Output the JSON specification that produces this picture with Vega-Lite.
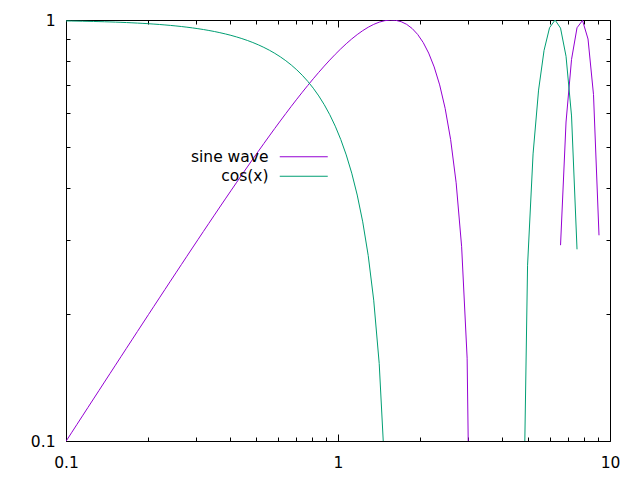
{
"$schema": "https://vega.github.io/schema/vega-lite/v6.json",
"width": 544, "height": 421,
"autosize": "none",
"padding": {"left": 66, "top": 20, "right": 30, "bottom": 39},
"background": "white",
"config": {
 "view": {"stroke": "black", "strokeWidth": 1},
 "axis": {"grid": false, "domain": false, "labelFont": "DejaVu Sans", "labelFontSize": 15.5, "labelColor": "black", "tickColor": "black", "tickWidth": 1, "title": null, "labelFlush": false, "labelOverlap": false},
 "legend": {"orient": "none", "legendX": 230, "legendY": 129, "symbolType": "M-4,0H4", "symbolSize": 144, "symbolStrokeWidth": 1, "labelAlign": "right", "labelOffset": -43, "labelFont": "DejaVu Sans", "labelFontSize": 15.5, "labelColor": "black", "title": null, "rowPadding": 2.5, "padding": 0}
},
"data": {"values": [
{"series":"sine wave","seg":"s1","x":0.1,"y":0.099833},
{"series":"sine wave","seg":"s1","x":0.104762,"y":0.104570},
{"series":"sine wave","seg":"s1","x":0.109750,"y":0.109530},
{"series":"sine wave","seg":"s1","x":0.114976,"y":0.114723},
{"series":"sine wave","seg":"s1","x":0.120450,"y":0.120159},
{"series":"sine wave","seg":"s1","x":0.126186,"y":0.125851},
{"series":"sine wave","seg":"s1","x":0.132194,"y":0.131809},
{"series":"sine wave","seg":"s1","x":0.138489,"y":0.138047},
{"series":"sine wave","seg":"s1","x":0.145083,"y":0.144575},
{"series":"sine wave","seg":"s1","x":0.151991,"y":0.151407},
{"series":"sine wave","seg":"s1","x":0.159228,"y":0.158556},
{"series":"sine wave","seg":"s1","x":0.166810,"y":0.166038},
{"series":"sine wave","seg":"s1","x":0.174753,"y":0.173864},
{"series":"sine wave","seg":"s1","x":0.183074,"y":0.182054},
{"series":"sine wave","seg":"s1","x":0.191791,"y":0.190617},
{"series":"sine wave","seg":"s1","x":0.200923,"y":0.199574},
{"series":"sine wave","seg":"s1","x":0.210490,"y":0.208939},
{"series":"sine wave","seg":"s1","x":0.220513,"y":0.218731},
{"series":"sine wave","seg":"s1","x":0.231013,"y":0.228963},
{"series":"sine wave","seg":"s1","x":0.242013,"y":0.239657},
{"series":"sine wave","seg":"s1","x":0.253536,"y":0.250828},
{"series":"sine wave","seg":"s1","x":0.265609,"y":0.262497},
{"series":"sine wave","seg":"s1","x":0.278256,"y":0.274680},
{"series":"sine wave","seg":"s1","x":0.291505,"y":0.287394},
{"series":"sine wave","seg":"s1","x":0.305386,"y":0.300661},
{"series":"sine wave","seg":"s1","x":0.319927,"y":0.314498},
{"series":"sine wave","seg":"s1","x":0.335160,"y":0.328920},
{"series":"sine wave","seg":"s1","x":0.351119,"y":0.343950},
{"series":"sine wave","seg":"s1","x":0.367838,"y":0.359600},
{"series":"sine wave","seg":"s1","x":0.385353,"y":0.375886},
{"series":"sine wave","seg":"s1","x":0.403702,"y":0.392826},
{"series":"sine wave","seg":"s1","x":0.422924,"y":0.410406},
{"series":"sine wave","seg":"s1","x":0.443062,"y":0.428750},
{"series":"sine wave","seg":"s1","x":0.464159,"y":0.447621},
{"series":"sine wave","seg":"s1","x":0.486260,"y":0.467323},
{"series":"sine wave","seg":"s1","x":0.509414,"y":0.487666},
{"series":"sine wave","seg":"s1","x":0.533670,"y":0.508697},
{"series":"sine wave","seg":"s1","x":0.559081,"y":0.530407},
{"series":"sine wave","seg":"s1","x":0.585702,"y":0.552785},
{"series":"sine wave","seg":"s1","x":0.613591,"y":0.575807},
{"series":"sine wave","seg":"s1","x":0.642807,"y":0.599444},
{"series":"sine wave","seg":"s1","x":0.673415,"y":0.623659},
{"series":"sine wave","seg":"s1","x":0.705480,"y":0.648399},
{"series":"sine wave","seg":"s1","x":0.739072,"y":0.673602},
{"series":"sine wave","seg":"s1","x":0.774264,"y":0.699190},
{"series":"sine wave","seg":"s1","x":0.811131,"y":0.725066},
{"series":"sine wave","seg":"s1","x":0.849753,"y":0.751117},
{"series":"sine wave","seg":"s1","x":0.890215,"y":0.777208},
{"series":"sine wave","seg":"s1","x":0.932603,"y":0.803173},
{"series":"sine wave","seg":"s1","x":0.977010,"y":0.828828},
{"series":"sine wave","seg":"s1","x":1.023531,"y":0.853951},
{"series":"sine wave","seg":"s1","x":1.072267,"y":0.878287},
{"series":"sine wave","seg":"s1","x":1.123324,"y":0.901544},
{"series":"sine wave","seg":"s1","x":1.176812,"y":0.923387},
{"series":"sine wave","seg":"s1","x":1.232847,"y":0.943436},
{"series":"sine wave","seg":"s1","x":1.291550,"y":0.961264},
{"series":"sine wave","seg":"s1","x":1.353048,"y":0.976387},
{"series":"sine wave","seg":"s1","x":1.417474,"y":0.988269},
{"series":"sine wave","seg":"s1","x":1.484968,"y":0.996319},
{"series":"sine wave","seg":"s1","x":1.555676,"y":0.999886},
{"series":"sine wave","seg":"s1","x":1.629751,"y":0.998263},
{"series":"sine wave","seg":"s1","x":1.707353,"y":0.990690},
{"series":"sine wave","seg":"s1","x":1.788650,"y":0.976364},
{"series":"sine wave","seg":"s1","x":1.873817,"y":0.954439},
{"series":"sine wave","seg":"s1","x":1.963041,"y":0.924053},
{"series":"sine wave","seg":"s1","x":2.056512,"y":0.884341},
{"series":"sine wave","seg":"s1","x":2.154435,"y":0.834463},
{"series":"sine wave","seg":"s1","x":2.257020,"y":0.773644},
{"series":"sine wave","seg":"s1","x":2.364489,"y":0.701217},
{"series":"sine wave","seg":"s1","x":2.477076,"y":0.616679},
{"series":"sine wave","seg":"s1","x":2.595024,"y":0.519759},
{"series":"sine wave","seg":"s1","x":2.718588,"y":0.410502},
{"series":"sine wave","seg":"s1","x":2.848036,"y":0.289359},
{"series":"sine wave","seg":"s1","x":2.983647,"y":0.157290},
{"series":"sine wave","seg":"s1","x":3.125716,"y":0.015876},
{"series":"sine wave","seg":"s2","x":6.579332,"y":0.291837},
{"series":"sine wave","seg":"s2","x":6.892612,"y":0.572399},
{"series":"sine wave","seg":"s2","x":7.220809,"y":0.806154},
{"series":"sine wave","seg":"s2","x":7.564633,"y":0.958430},
{"series":"sine wave","seg":"s2","x":7.924829,"y":0.997491},
{"series":"sine wave","seg":"s2","x":8.302176,"y":0.901231},
{"series":"sine wave","seg":"s2","x":8.697490,"y":0.664846},
{"series":"sine wave","seg":"s2","x":9.111628,"y":0.308057},
{"series":"cos(x)","seg":"c1","x":0.1,"y":0.995004},
{"series":"cos(x)","seg":"c1","x":0.104762,"y":0.994517},
{"series":"cos(x)","seg":"c1","x":0.109750,"y":0.993984},
{"series":"cos(x)","seg":"c1","x":0.114976,"y":0.993398},
{"series":"cos(x)","seg":"c1","x":0.120450,"y":0.992755},
{"series":"cos(x)","seg":"c1","x":0.126186,"y":0.992049},
{"series":"cos(x)","seg":"c1","x":0.132194,"y":0.991275},
{"series":"cos(x)","seg":"c1","x":0.138489,"y":0.990426},
{"series":"cos(x)","seg":"c1","x":0.145083,"y":0.989494},
{"series":"cos(x)","seg":"c1","x":0.151991,"y":0.988472},
{"series":"cos(x)","seg":"c1","x":0.159228,"y":0.987350},
{"series":"cos(x)","seg":"c1","x":0.166810,"y":0.986119},
{"series":"cos(x)","seg":"c1","x":0.174753,"y":0.984769},
{"series":"cos(x)","seg":"c1","x":0.183074,"y":0.983289},
{"series":"cos(x)","seg":"c1","x":0.191791,"y":0.981664},
{"series":"cos(x)","seg":"c1","x":0.200923,"y":0.979883},
{"series":"cos(x)","seg":"c1","x":0.210490,"y":0.977929},
{"series":"cos(x)","seg":"c1","x":0.220513,"y":0.975785},
{"series":"cos(x)","seg":"c1","x":0.231013,"y":0.973435},
{"series":"cos(x)","seg":"c1","x":0.242013,"y":0.970858},
{"series":"cos(x)","seg":"c1","x":0.253536,"y":0.968032},
{"series":"cos(x)","seg":"c1","x":0.265609,"y":0.964933},
{"series":"cos(x)","seg":"c1","x":0.278256,"y":0.961536},
{"series":"cos(x)","seg":"c1","x":0.291505,"y":0.957812},
{"series":"cos(x)","seg":"c1","x":0.305386,"y":0.953731},
{"series":"cos(x)","seg":"c1","x":0.319927,"y":0.949258},
{"series":"cos(x)","seg":"c1","x":0.335160,"y":0.944358},
{"series":"cos(x)","seg":"c1","x":0.351119,"y":0.938988},
{"series":"cos(x)","seg":"c1","x":0.367838,"y":0.933107},
{"series":"cos(x)","seg":"c1","x":0.385353,"y":0.926666},
{"series":"cos(x)","seg":"c1","x":0.403702,"y":0.919613},
{"series":"cos(x)","seg":"c1","x":0.422924,"y":0.911893},
{"series":"cos(x)","seg":"c1","x":0.443062,"y":0.903443},
{"series":"cos(x)","seg":"c1","x":0.464159,"y":0.894198},
{"series":"cos(x)","seg":"c1","x":0.486260,"y":0.884087},
{"series":"cos(x)","seg":"c1","x":0.509414,"y":0.873030},
{"series":"cos(x)","seg":"c1","x":0.533670,"y":0.860946},
{"series":"cos(x)","seg":"c1","x":0.559081,"y":0.847743},
{"series":"cos(x)","seg":"c1","x":0.585702,"y":0.833324},
{"series":"cos(x)","seg":"c1","x":0.613591,"y":0.817586},
{"series":"cos(x)","seg":"c1","x":0.642807,"y":0.800416},
{"series":"cos(x)","seg":"c1","x":0.673415,"y":0.781696},
{"series":"cos(x)","seg":"c1","x":0.705480,"y":0.761301},
{"series":"cos(x)","seg":"c1","x":0.739072,"y":0.739094},
{"series":"cos(x)","seg":"c1","x":0.774264,"y":0.714936},
{"series":"cos(x)","seg":"c1","x":0.811131,"y":0.688679},
{"series":"cos(x)","seg":"c1","x":0.849753,"y":0.660169},
{"series":"cos(x)","seg":"c1","x":0.890215,"y":0.629245},
{"series":"cos(x)","seg":"c1","x":0.932603,"y":0.595746},
{"series":"cos(x)","seg":"c1","x":0.977010,"y":0.559503},
{"series":"cos(x)","seg":"c1","x":1.023531,"y":0.520353},
{"series":"cos(x)","seg":"c1","x":1.072267,"y":0.478134},
{"series":"cos(x)","seg":"c1","x":1.123324,"y":0.432688},
{"series":"cos(x)","seg":"c1","x":1.176812,"y":0.383870},
{"series":"cos(x)","seg":"c1","x":1.232847,"y":0.331553},
{"series":"cos(x)","seg":"c1","x":1.291550,"y":0.275631},
{"series":"cos(x)","seg":"c1","x":1.353048,"y":0.216033},
{"series":"cos(x)","seg":"c1","x":1.417474,"y":0.152722},
{"series":"cos(x)","seg":"c1","x":1.484968,"y":0.085723},
{"series":"cos(x)","seg":"c1","x":1.555676,"y":0.015119},
{"series":"cos(x)","seg":"c2","x":4.750810,"y":0.038412},
{"series":"cos(x)","seg":"c2","x":4.977024,"y":0.261557},
{"series":"cos(x)","seg":"c2","x":5.214008,"y":0.480846},
{"series":"cos(x)","seg":"c2","x":5.462277,"y":0.681557},
{"series":"cos(x)","seg":"c2","x":5.722368,"y":0.846821},
{"series":"cos(x)","seg":"c2","x":5.994843,"y":0.958717},
{"series":"cos(x)","seg":"c2","x":6.280291,"y":0.999996},
{"series":"cos(x)","seg":"c2","x":6.579332,"y":0.956468},
{"series":"cos(x)","seg":"c2","x":6.892612,"y":0.819976},
{"series":"cos(x)","seg":"c2","x":7.220809,"y":0.591705},
{"series":"cos(x)","seg":"c2","x":7.564633,"y":0.285323}
]},
"layer": [
 {"mark": {"type": "line", "strokeWidth": 1, "clip": true},
  "encoding": {
   "x": {"field": "x", "type": "quantitative", "scale": {"type": "log", "domain": [0.1, 10]}, "axis": {"orient": "bottom", "values": [0.1, 1, 10], "format": "~g", "tickSize": -7, "labelPadding": 21}},
   "y": {"field": "y", "type": "quantitative", "scale": {"type": "log", "domain": [0.1, 1]}, "axis": {"orient": "left", "values": [0.1, 1], "format": "~g", "tickSize": -7, "labelPadding": 18}},
   "color": {"field": "series", "type": "nominal", "scale": {"domain": ["sine wave", "cos(x)"], "range": ["#9400d3", "#009e73"]}},
   "detail": {"field": "seg"}
  }},
 {"mark": {"type": "point", "opacity": 0},
  "encoding": {
   "x": {"field": "x", "type": "quantitative", "axis": {"orient": "bottom", "values": [0.2,0.3,0.4,0.5,0.6,0.7,0.8,0.9,2,3,4,5,6,7,8,9], "tickSize": -4, "labels": false}},
   "y": {"field": "y", "type": "quantitative", "axis": {"orient": "left", "values": [0.2,0.3,0.4,0.5,0.6,0.7,0.8,0.9], "tickSize": -4, "labels": false}}
  }},
 {"mark": {"type": "point", "opacity": 0},
  "encoding": {
   "x": {"field": "x", "type": "quantitative", "axis": {"orient": "top", "values": [0.1, 1, 10], "tickSize": -7, "labels": false}},
   "y": {"field": "y", "type": "quantitative", "axis": {"orient": "right", "values": [0.1, 1], "tickSize": -7, "labels": false}}
  }},
 {"mark": {"type": "point", "opacity": 0},
  "encoding": {
   "x": {"field": "x", "type": "quantitative", "axis": {"orient": "top", "values": [0.2,0.3,0.4,0.5,0.6,0.7,0.8,0.9,2,3,4,5,6,7,8,9], "tickSize": -4, "labels": false}},
   "y": {"field": "y", "type": "quantitative", "axis": {"orient": "right", "values": [0.2,0.3,0.4,0.5,0.6,0.7,0.8,0.9], "tickSize": -4, "labels": false}}
  }}
],
"resolve": {"axis": {"x": "independent", "y": "independent"}}
}
